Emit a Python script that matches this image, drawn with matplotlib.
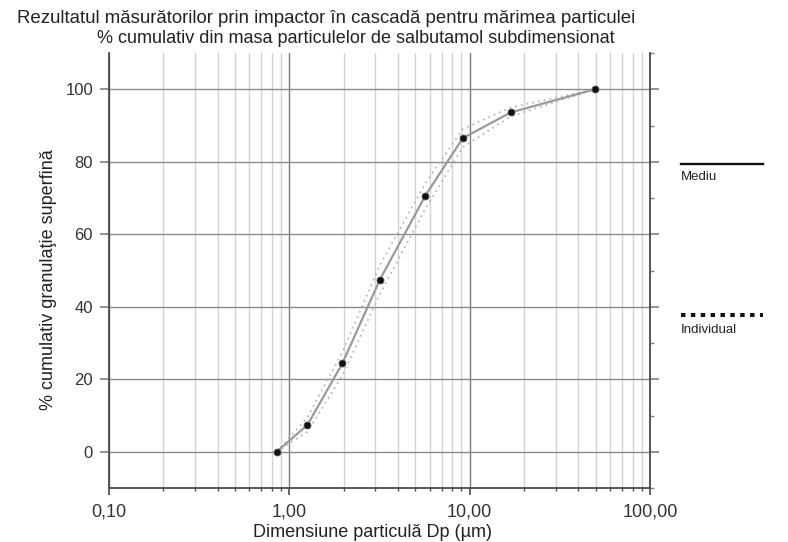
"""
Cascade impactor cumulative particle size chart.
"""

import matplotlib
matplotlib.use("Agg")
import matplotlib.pyplot as plt
from matplotlib.lines import Line2D
from matplotlib.ticker import FixedLocator, FuncFormatter, MultipleLocator, LogLocator, NullFormatter

plt.rcParams["font.family"] = ["Liberation Sans", "DejaVu Sans"]

# data
size_um = [0.85, 1.26, 1.97, 3.18, 5.67, 9.15, 16.9, 49.5]
mean_pct = [0.0, 7.4, 24.4, 47.5, 70.6, 86.5, 93.6, 100.0]
indiv_a = [0.0, 9.5, 27.5, 51.5, 74.0, 89.0, 95.0, 100.0]
indiv_b = [0.0, 5.5, 21.0, 43.5, 67.0, 84.0, 92.5, 100.0]

title = "Rezultatul măsurătorilor prin impactor în cascadă pentru mărimea particulei"
subtitle = "% cumulativ din masa particulelor de salbutamol subdimensionat"
xlabel = "Dimensiune particulă Dp (µm)"
ylabel = "% cumulativ granulaţie superfină"
legend_labels = ["Mediu", "Individual"]

fig = plt.figure(figsize=(7.88, 5.42), dpi=100)
ax = fig.add_axes([0.1383, 0.0996, 0.6866, 0.8026])

ax.set_xscale("log")
ax.set_xlim(0.1, 100)
ax.set_ylim(-10, 110)

# grid
ax.xaxis.set_major_locator(FixedLocator([0.1, 1, 10, 100]))
ax.xaxis.set_minor_locator(LogLocator(base=10, subs=range(2, 10)))
ax.xaxis.set_minor_formatter(NullFormatter())
ax.xaxis.set_major_formatter(FuncFormatter(lambda v, p: f"{v:.2f}".replace(".", ",")))
ax.yaxis.set_major_locator(FixedLocator([0, 20, 40, 60, 80, 100]))
ax.yaxis.set_minor_locator(MultipleLocator(10))

ax.grid(True, axis="x", which="major", color="#7a7a7a", lw=1.0)
ax.grid(True, axis="x", which="minor", color="#d2d2d2", lw=1.0)
ax.grid(True, axis="y", which="major", color="#8c8c8c", lw=1.0)
ax.set_axisbelow(True)

for s in ax.spines.values():
    s.set_color("#4a4a4a")
    s.set_linewidth(1.3)
ax.spines["top"].set_visible(False)

ax.tick_params(axis="x", which="major", direction="out", length=5, width=1.2, color="#4a4a4a",
               labelsize=13, labelcolor="#333333", pad=6)
ax.tick_params(axis="x", which="minor", direction="out", length=2.5, width=1.0, color="#4a4a4a")
ax.tick_params(axis="y", which="major", direction="out", length=6.5, width=1.2, color="#808080",
               left=True, right=True, labelsize=12, labelcolor="#333333", pad=5)
ax.tick_params(axis="y", which="minor", direction="out", length=3, width=1.0, color="#808080",
               left=False, right=True)

# individual curves and mean
ax.plot(size_um, indiv_a, ls=(0, (1, 2.5)), color="#b0b0b0", lw=1.2)
ax.plot(size_um, indiv_b, ls=(0, (1, 2.5)), color="#b0b0b0", lw=1.2)
ax.plot(size_um, mean_pct, color="#9a9a9a", lw=1.6, marker="o", ms=5,
        mfc="#111111", mec="#555555", mew=0.6)

ax.set_xlabel(xlabel, fontsize=13, color="#222222", labelpad=2.5)
ax.xaxis.label.set_x(0.487)
ax.set_ylabel(ylabel, fontsize=13, color="#222222")
ax.yaxis.set_label_coords(-0.096, 0.48)

fig.text(0.0216, 1 - 22.7 / 542, title, fontsize=13.4, color="#222222", va="baseline", ha="left")
fig.text(0.123, 1 - 43.3 / 542, subtitle, fontsize=13, color="#222222", va="baseline", ha="left")

# legend on the right
fig.add_artist(Line2D([0.864, 0.968], [0.697, 0.697], color="#111111", lw=1.7))
fig.text(0.864, 1 - 177 / 542, legend_labels[0], fontsize=9.5, color="#222222", va="center")
fig.add_artist(Line2D([0.864, 0.968], [1 - 315 / 542, 1 - 315 / 542], color="#111111", lw=2.9,
                      ls=(0, (1.1, 1.35)), solid_capstyle="butt", dash_capstyle="butt"))
fig.text(0.864, 1 - 330 / 542, legend_labels[1], fontsize=9.5, color="#222222", va="center")

fig.savefig("out.png", dpi=100)
